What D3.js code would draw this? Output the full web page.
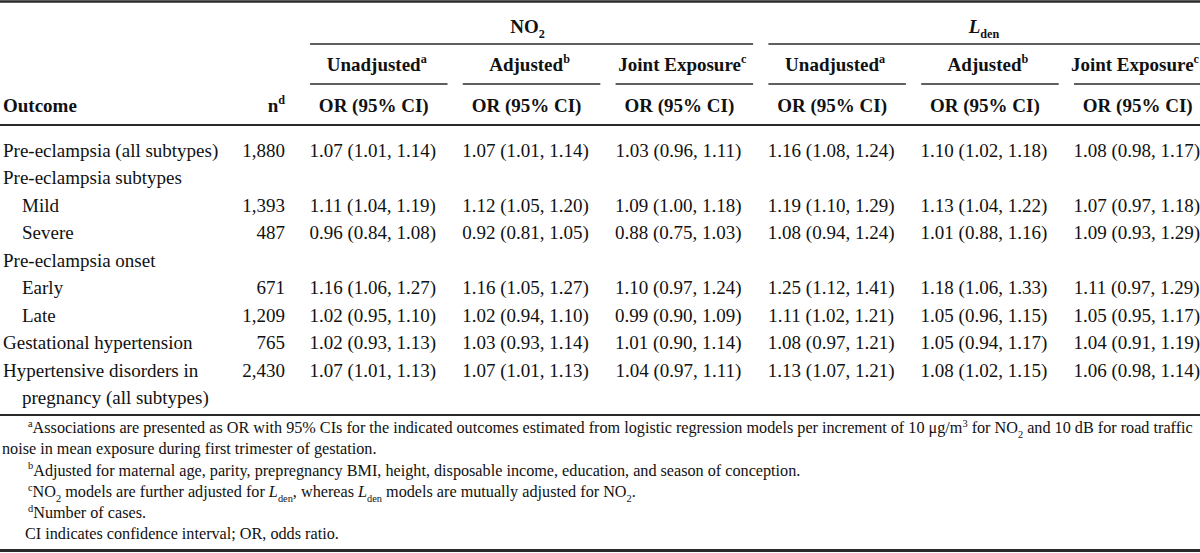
<!DOCTYPE html>
<html>
<head>
<meta charset="utf-8">
<script src="https://cdn.jsdelivr.net/npm/d3@7"></script>
<style>
  html, body { margin: 0; padding: 0; background: #fff; }
  svg { display: block; font-family: "Liberation Serif", "Times New Roman", serif; }
</style>
</head>
<body>
<div id="chart"></div>
<script>
// ---------- data ----------
const outcomes = [
  "Pre-eclampsia (all subtypes)", "Pre-eclampsia subtypes", "Mild", "Severe",
  "Pre-eclampsia onset", "Early", "Late", "Gestational hypertension",
  "Hypertensive disorders in", "pregnancy (all subtypes)"
];
const indented = [false, false, true, true, false, true, true, false, false, true];
const nCases = ["1,880", "", "1,393", "487", "", "671", "1,209", "765", "2,430", ""];

// each series: [OR, lower, upper] per row (null = no value)
const no2Unadjusted = [[1.07,1.01,1.14], null, [1.11,1.04,1.19], [0.96,0.84,1.08], null, [1.16,1.06,1.27], [1.02,0.95,1.10], [1.02,0.93,1.13], [1.07,1.01,1.13], null];
const no2Adjusted   = [[1.07,1.01,1.14], null, [1.12,1.05,1.20], [0.92,0.81,1.05], null, [1.16,1.05,1.27], [1.02,0.94,1.10], [1.03,0.93,1.14], [1.07,1.01,1.13], null];
const no2Joint      = [[1.03,0.96,1.11], null, [1.09,1.00,1.18], [0.88,0.75,1.03], null, [1.10,0.97,1.24], [0.99,0.90,1.09], [1.01,0.90,1.14], [1.04,0.97,1.11], null];
const ldenUnadjusted= [[1.16,1.08,1.24], null, [1.19,1.10,1.29], [1.08,0.94,1.24], null, [1.25,1.12,1.41], [1.11,1.02,1.21], [1.08,0.97,1.21], [1.13,1.07,1.21], null];
const ldenAdjusted  = [[1.10,1.02,1.18], null, [1.13,1.04,1.22], [1.01,0.88,1.16], null, [1.18,1.06,1.33], [1.05,0.96,1.15], [1.05,0.94,1.17], [1.08,1.02,1.15], null];
const ldenJoint     = [[1.08,0.98,1.17], null, [1.07,0.97,1.18], [1.09,0.93,1.29], null, [1.11,0.97,1.29], [1.05,0.95,1.17], [1.04,0.91,1.19], [1.06,0.98,1.14], null];

const series = [no2Unadjusted, no2Adjusted, no2Joint, ldenUnadjusted, ldenAdjusted, ldenJoint];
const subHeaders = [["Unadjusted","a"], ["Adjusted","b"], ["Joint Exposure","c"], ["Unadjusted","a"], ["Adjusted","b"], ["Joint Exposure","c"]];
const statLabel = "OR (95% CI)";

// ---------- setup ----------
const W = 1200, H = 553, FS = 19, FN = 16.2;
const svg = d3.select("#chart").append("svg").attr("width", W).attr("height", H);
const ink = "#111";

const colX = d3.scaleBand().domain(d3.range(6)).range([310, 1211.5]).paddingInner(0.1);
const rowY = d3.scaleLinear().domain([0, 9]).range([150, 397.5]);
const fmt = d3.format(".2f");
const base = (center, size) => center + 0.35 * size;   // baseline from visual centre

function rich(sel, segs, size) {
  let off = 0;
  segs.forEach(s => {
    const target = s.sup ? -size * 0.38 : s.sub ? size * 0.3 : 0;
    const ts = sel.append("tspan").text(s.t);
    if (target - off !== 0) ts.attr("dy", target - off);
    if (s.sup || s.sub) ts.attr("font-size", size * 0.64);
    if (s.it) ts.attr("font-style", "italic");
    off = target;
  });
}
function rule(y, w, x1 = 0, x2 = W) {
  svg.append("line").attr("x1", x1).attr("x2", x2).attr("y1", y).attr("y2", y)
    .attr("stroke", "#2a2a2a").attr("stroke-width", w);
}

// ---------- rules ----------
rule(1.5, 2.5);
rule(125, 2);
rule(415, 2);
rule(550.5, 3);

// group underlines
rule(44, 1.6, colX(0), colX(2) + colX.bandwidth());
rule(44, 1.6, colX(3), colX(5) + colX.bandwidth());
// sub header underlines
d3.range(6).forEach(i => rule(84, 1.6, colX(i), Math.min(W, colX(i) + colX.bandwidth())));

// ---------- header text ----------
const hdr = svg.append("g").attr("font-weight", "bold").attr("font-size", FS).attr("fill", ink);
const g1 = hdr.append("text").attr("x", colX(1) + colX.bandwidth() / 2 - 4).attr("y", base(26, FS)).attr("text-anchor", "middle");
rich(g1, [{t: "NO"}, {t: "2", sub: true}], FS);
const g2 = hdr.append("text").attr("x", colX(4) + colX.bandwidth() / 2 - 6).attr("y", base(26, FS)).attr("text-anchor", "middle");
rich(g2, [{t: "L", it: true}, {t: "den", sub: true}], FS);

subHeaders.forEach((h, i) => {
  const t = hdr.append("text").attr("y", base(64, FS)).attr("text-anchor", "middle");
  rich(t, [{t: h[0]}, {t: h[1], sup: true}], FS);
  const w = t.node().getComputedTextLength();
  t.attr("x", Math.min(colX(i) + colX.bandwidth() / 2 - 2, W - 1 - w / 2));
  hdr.append("text").attr("x", colX(i) + colX.bandwidth() / 2 - 5).attr("y", base(105, FS))
    .attr("text-anchor", "middle").text(statLabel);
});
hdr.append("text").attr("x", 3).attr("y", base(105, FS)).text("Outcome");
const nh = hdr.append("text").attr("x", 285).attr("y", base(105, FS)).attr("text-anchor", "end");
rich(nh, [{t: "n"}, {t: "d", sup: true}], FS);

// ---------- body ----------
const body = svg.append("g").attr("font-size", FS).attr("fill", ink);
body.selectAll("text.outcome").data(outcomes).join("text").attr("class", "outcome")
  .attr("x", (d, i) => indented[i] ? 22 : 3).attr("y", (d, i) => base(rowY(i), FS)).text(d => d);
body.selectAll("text.n").data(nCases).join("text").attr("class", "n")
  .attr("x", 285).attr("y", (d, i) => base(rowY(i), FS)).attr("text-anchor", "end").text(d => d);

series.forEach((s, c) => {
  body.selectAll("text.v" + c).data(s.map((v, r) => ({v, r})).filter(d => d.v))
    .join("text").attr("class", "v" + c)
    .attr("x", colX(c) + colX.bandwidth() / 2 - 6).attr("y", d => base(rowY(d.r), FS))
    .attr("text-anchor", "middle")
    .text(d => `${fmt(d.v[0])} (${fmt(d.v[1])}, ${fmt(d.v[2])})`);
});

// ---------- footnotes ----------
const notes = [
  {x: 28, segs: [{t: "a", sup: true}, {t: "Associations are presented as OR with 95% CIs for the indicated outcomes estimated from logistic regression models per increment of 10 μg/m"}, {t: "3", sup: true}, {t: " for NO"}, {t: "2", sub: true}, {t: " and 10 dB for road traffic"}]},
  {x: 2, segs: [{t: "noise in mean exposure during first trimester of gestation."}]},
  {x: 28, segs: [{t: "b", sup: true}, {t: "Adjusted for maternal age, parity, prepregnancy BMI, height, disposable income, education, and season of conception."}]},
  {x: 28, segs: [{t: "c", sup: true}, {t: "NO"}, {t: "2", sub: true}, {t: " models are further adjusted for "}, {t: "L", it: true}, {t: "den", sub: true}, {t: ", whereas "}, {t: "L", it: true}, {t: "den", sub: true}, {t: " models are mutually adjusted for NO"}, {t: "2", sub: true}, {t: "."}]},
  {x: 28, segs: [{t: "d", sup: true}, {t: "Number of cases."}]},
  {x: 25, segs: [{t: "CI indicates confidence interval; OR, odds ratio."}]}
];
const noteY = d3.scaleLinear().domain([0, 5]).range([427.5, 533.5]);
const fg = svg.append("g").attr("font-size", FN).attr("fill", ink);
notes.forEach((n, i) => {
  const t = fg.append("text").attr("x", n.x).attr("y", base(noteY(i), FN));
  rich(t, n.segs, FN);
});
</script>
</body>
</html>
